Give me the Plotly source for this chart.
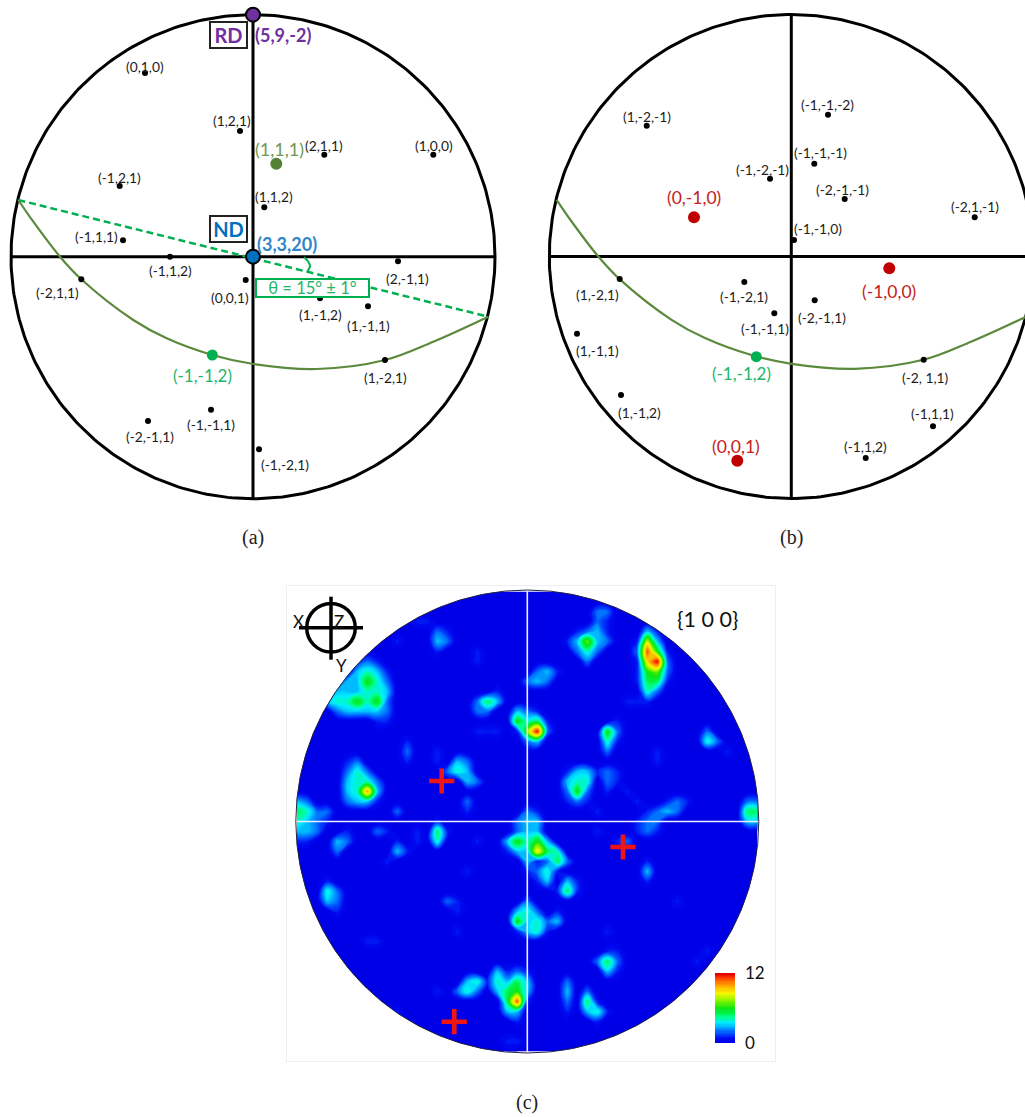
import numpy as np
import plotly.graph_objects as go

W, H = 1025, 1117
R = 242

# ---------- panel (a): projected poles ----------
A_NAMES = ["(0,1,0)", "(1,2,1)", "(2,1,1)", "(1,0,0)", "(1,1,2)", "(-1,2,1)", "(-1,1,1)", "(-1,1,2)", "(2,-1,1)",
           "(-2,1,1)", "(0,0,1)", "(1,-1,2)", "(1,-1,1)", "(1,-2,1)", "(-1,-1,1)", "(-2,-1,1)", "(-1,-2,1)"]
A_X = [-108, -13, 71.3, 180.3, 11.3, -133.3, -130, -83, 145, -171.7, -7.3, 67, 115, 132, -42, -105, 6]
A_Y = [183.7, 125.7, 102, 102, 49.4, 70.7, 16.4, 0, -4.6, -22.6, -23.3, -41.6, -49.6, -103.3, -153, -164.3, -192.6]
A_LABEL_X = [-108, -20.7, 71.3, 181, 21.3, -133.3, -157, -83, 154.3, -196, -23.3, 67.3, 115, 132.7, -42, -103.3, 32]
A_LABEL_Y = [190.7, 136.4, 111, 111.7, 60, 79.4, 20.7, -14, -21.6, -35.6, -40.3, -57.6, -68.3, -121, -167.3, -179.3, -207.6]

# ---------- panel (b) ----------
B_NAMES = ["(1,-2,-1)", "(-1,-1,-2)", "(-1,-1,-1)", "(-1,-2,-1)", "(-2,-1,-1)", "(-2,1,-1)", "(-1,-1,0)", "(1,-2,1)",
           "(-1,-2,1)", "(-1,-1,1)", "(-2,-1,1)", "(1,-1,1)", "(1,-1,2)", "(-2, 1,1)", "(-1,1,1)", "(-1,1,2)"]
B_X = [-144.6, 36.7, 23, -21.3, 53.4, 183.4, 2.7, -171.6, -47, -17, 23.4, -214.3, -170.3, 132.4, 141.7, 74.4]
B_Y = [130.8, 141.8, 92.8, 77.8, 57.5, 39.2, 16.5, -22.5, -25.5, -56.8, -43.8, -77.2, -138.5, -103.2, -169.8, -201.5]
B_LABEL_X = [-144.6, 36, 28.7, -29.3, 51.4, 184, 26.4, -193.6, -47, -26.3, 30.4, -194, -152, 133.7, 141.4, 73.7]
B_LABEL_Y = [139.8, 152.2, 103.8, 87.2, 67.2, 49.8, 28.2, -37.5, -40.2, -72.2, -60.5, -94.2, -156.2, -121.2, -157.2, -189.8]
B_RED_NAMES = ["(0,-1,0)", "(-1,0,0)", "(0,0,1)"]
B_RED_X = [-97.3, 98, -54]
B_RED_Y = [39.2, -11.8, -204.2]
B_RED_LABEL_X = [-97.3, 97.7, -55.6]
B_RED_LABEL_Y = [59.2, -34.8, -189.5]

# trace of the (-1,-1,2) plane and the 15 degree chord
TRACE_X = [-234.7, -219.7, -193, -171.7, -119.7, -86.3, -40.7, 0.3, 63.7, 132, 180.3, 235.3]
TRACE_Y = [56.7, 35, 0, -22.6, -63.3, -81.6, -98.3, -107.3, -112.3, -103.3, -85, -60]
CHORD_X = [-234.7, 235.3]
CHORD_Y = [56.7, -60]
ANGLE_X = [51, 55.3, 57, 54.3]
ANGLE_Y = [-0.6, -5, -9.3, -15]

POLE_DENSITY = {
    2: {30: 2, 31: 2},
    3: {12: 1, 13: 1, 30: 2, 31: 1},
    4: {14: 2, 15: 1, 28: 1, 29: 2, 30: 3, 31: 1, 35: 3, 36: 1},
    5: {10: 1, 14: 3, 15: 2, 27: 1, 28: 3, 29: 7, 30: 3, 31: 2, 34: 1, 35: 8, 36: 3},
    6: {14: 1, 18: 1, 28: 2, 29: 4, 30: 2, 34: 2, 35: 11, 36: 6, 37: 1},
    7: {6: 1, 7: 2, 8: 1, 18: 1, 29: 2, 34: 1, 35: 9, 36: 12, 37: 2},
    8: {6: 3, 7: 4, 8: 3, 9: 1, 24: 2, 25: 3, 26: 1, 34: 1, 35: 6, 36: 7, 37: 2},
    9: {4: 1, 5: 3, 6: 3, 7: 6, 8: 4, 9: 2, 23: 2, 24: 3, 25: 2, 34: 1, 35: 5, 36: 5, 37: 1},
    10: {3: 2, 4: 3, 5: 3, 6: 3, 7: 4, 8: 4, 9: 3, 20: 1, 35: 4, 36: 2},
    11: {3: 3, 4: 4, 5: 4, 6: 6, 7: 4, 8: 6, 9: 2, 18: 2, 19: 5, 20: 3, 33: 1, 34: 1, 35: 1},
    12: {4: 2, 5: 3, 6: 3, 7: 3, 8: 3, 9: 2, 18: 2, 19: 2, 22: 3, 23: 2, 24: 1},
    13: {8: 1, 9: 1, 22: 6, 23: 4, 24: 5, 25: 1, 32: 1},
    14: {18: 1, 19: 1, 20: 1, 22: 1, 23: 7, 24: 12, 25: 2, 31: 6, 32: 2, 41: 2},
    15: {11: 1, 23: 2, 24: 3, 31: 4, 32: 1, 41: 4, 42: 2},
    16: {11: 2, 14: 1, 31: 2, 36: 1, 43: 1},
    17: {5: 1, 6: 2, 11: 1, 14: 1, 16: 3, 17: 2, 36: 1},
    18: {5: 2, 6: 4, 7: 2, 15: 2, 16: 4, 17: 3, 27: 1, 28: 3, 29: 3, 30: 1, 31: 2, 32: 1},
    19: {5: 3, 6: 4, 7: 4, 8: 2, 17: 3, 18: 2, 27: 3, 28: 4, 29: 4, 31: 2, 32: 1},
    20: {5: 3, 6: 4, 7: 10, 8: 3, 27: 2, 28: 6, 29: 2, 31: 1, 33: 1},
    21: {0: 3, 1: 2, 5: 2, 6: 3, 7: 3, 8: 1, 17: 2, 27: 1, 28: 2, 29: 1, 34: 1, 37: 1, 38: 2, 39: 1, 45: 2, 46: 2},
    22: {0: 5, 1: 4, 2: 2, 3: 2, 10: 2, 17: 1, 23: 2, 24: 1, 30: 1, 35: 1, 36: 2, 37: 3, 38: 2, 45: 5, 46: 5},
    23: {0: 4, 1: 3, 2: 2, 3: 1, 14: 1, 22: 2, 23: 3, 24: 3, 34: 1, 35: 2, 36: 2, 45: 3, 46: 3},
    24: {0: 3, 1: 3, 2: 2, 5: 1, 8: 2, 9: 1, 12: 1, 14: 5, 15: 1, 22: 2, 23: 3, 24: 3, 30: 1, 34: 1, 35: 2, 36: 1},
    25: {0: 1, 1: 1, 4: 3, 5: 2, 10: 1, 12: 1, 14: 4, 18: 1, 21: 3, 22: 6, 23: 4, 24: 6, 25: 3, 32: 1, 33: 2},
    26: {4: 2, 10: 3, 11: 1, 21: 1, 22: 3, 23: 3, 24: 9, 25: 5, 26: 4},
    27: {9: 1, 23: 3, 24: 1, 25: 2, 26: 5, 27: 2, 35: 1},
    28: {17: 1, 23: 1, 24: 2, 25: 4, 26: 1, 35: 3},
    29: {3: 1, 24: 1, 25: 3, 27: 3, 28: 1, 35: 1},
    30: {3: 4, 4: 2, 26: 1, 27: 5, 28: 1},
    31: {3: 3, 4: 2, 15: 2, 16: 1, 23: 2, 38: 1},
    32: {4: 1, 16: 1, 22: 3, 23: 4, 24: 2, 26: 1},
    33: {22: 6, 23: 3, 24: 4, 25: 2, 26: 3},
    34: {16: 1, 22: 1, 23: 3, 24: 4, 25: 1, 31: 1},
    35: {7: 1, 8: 1},
    36: {31: 1, 32: 1, 41: 1},
    37: {30: 2, 31: 5, 32: 2, 40: 1},
    38: {20: 3, 21: 1, 22: 2, 23: 1, 31: 3, 32: 1},
    39: {17: 3, 18: 4, 19: 1, 20: 4, 21: 3, 22: 5, 23: 3, 27: 2},
    40: {14: 1, 16: 2, 17: 4, 18: 2, 20: 3, 21: 5, 22: 6, 23: 3, 27: 3, 29: 2},
    41: {21: 5, 22: 11, 23: 1, 27: 2, 29: 5, 30: 1},
    42: {10: 1, 21: 3, 22: 3, 27: 1, 29: 3, 30: 4, 31: 1},
    43: {22: 1, 30: 1},
    45: {21: 1, 22: 1},
}
CROSS_X = [-85.6, 95.7, -73]
CROSS_Y = [40.5, -25.5, -200.2]
COLOR_TICKS = [0, 12]

FONT = "Lato"
BLACK = "#000000"
TEXT = "#1c1c1c"
OLIVE = "#5b8a3c"
GREEN = "#00b050"
RED = "#c00000"
PURPLE = "#7030a0"
BLUE = "#0070c0"
JET = [[0, "#0000e6"], [0.06, "#0008f0"], [0.14, "#0050ff"], [0.21, "#0098ff"], [0.29, "#00eeff"], [0.37, "#00ff90"], [0.44, "#00f040"],
       [0.5, "#10e610"], [0.6, "#80f400"], [0.71, "#f8f800"], [0.82, "#ffa800"], [0.92, "#ff4800"], [1, "#e80000"]]

fig = go.Figure()
theta = np.linspace(0, 2 * np.pi, 361)


def line(xa, ya, x, y, color=BLACK, width=3, **kw):
    fig.add_trace(go.Scatter(x=x, y=y, xaxis=xa, yaxis=ya, mode="lines", hoverinfo="skip", showlegend=False,
                             line=dict(color=color, width=width, **kw)))


def dots(xa, ya, x, y, color=BLACK, size=6, outline=None):
    fig.add_trace(go.Scatter(x=x, y=y, xaxis=xa, yaxis=ya, mode="markers", showlegend=False,
                             marker=dict(color=color, size=size, line=dict(color=outline or color, width=2 if outline else 0))))


def label(xa, ya, x, y, text, size=13.8, color=TEXT, bold=False, **kw):
    fig.add_annotation(xref=xa, yref=ya, x=x, y=y, text=f"<b>{text}</b>" if bold else text, showarrow=False,
                       font=dict(family=FONT, size=size, color=color), **kw)


# outlines and axes of both stereographic disks
for xa, ya in (("x", "y"), ("x2", "y2")):
    line(xa, ya, R * np.cos(theta), R * np.sin(theta))
    line(xa, ya, [-R, R], [0, 0])
    line(xa, ya, [0, 0], [-R, R])

# panel a
line("x", "y", CHORD_X, CHORD_Y, GREEN, 2.5, dash="7px,4px")
line("x", "y", TRACE_X, TRACE_Y, OLIVE, 2.2, shape="spline")
line("x", "y", ANGLE_X, ANGLE_Y, GREEN, 2, shape="spline")
dots("x", "y", A_X, A_Y)
dots("x", "y", [-40.7], [-98.3], GREEN, 11)
dots("x", "y", [23.3], [93], "#548235", 12)
dots("x", "y", [0], [R], PURPLE, 14, BLACK)
dots("x", "y", [0], [0], BLUE, 14, BLACK)
for n, x, y in zip(A_NAMES, A_LABEL_X, A_LABEL_Y):
    label("x", "y", x, y, n)
label("x", "y", -51, -118.3, "(-1,-1,2)", 17, "#1fb56b")
label("x", "y", 26.3, 107.4, "(1,1,1)", 18, "#6f9a50")
label("x", "y", 30.3, 221.7, "(5,9,-2)", 18, PURPLE, True)
label("x", "y", 34.3, 12.7, "(3,3,20)", 18, "#2e86c8", True)
label("x", "y", -25, 222, "RD", 20, PURPLE, True, bgcolor="#fff", bordercolor="#222", borderwidth=2, width=35, height=24, borderpad=0)
label("x", "y", -25, 28, "ND", 20, BLUE, True, bgcolor="#fff", bordercolor="#222", borderwidth=2, width=35, height=24, borderpad=0)
label("x", "y", 59.5, -30.8, "θ = 15° ± 1°", 16.5, "#1fb56b", False, bgcolor="#fff", bordercolor=GREEN, borderwidth=2, width=111, height=16, borderpad=0)

# panel b
line("x2", "y2", TRACE_X, TRACE_Y, OLIVE, 2.2, shape="spline")
dots("x2", "y2", B_X, B_Y)
dots("x2", "y2", B_RED_X, B_RED_Y, RED, 12)
dots("x2", "y2", [-35], [-100.2], GREEN, 11)
for n, x, y in zip(B_NAMES, B_LABEL_X, B_LABEL_Y):
    label("x2", "y2", x, y, n)
for n, x, y in zip(B_RED_NAMES, B_RED_LABEL_X, B_RED_LABEL_Y):
    label("x2", "y2", x, y, n, 17.5, "#c62020")
label("x2", "y2", -50.3, -117.2, "(-1,-1,2)", 17, "#1fb56b")

# panel c
z = np.zeros((47, 47))
for row, cols in POLE_DENSITY.items():
    for col, value in cols.items():
        z[row, col] = value
lattice = np.arange(-230, 231, 10)
fig.add_trace(go.Contour(x=lattice + 0.0, y=lattice + 0.0, z=z[::-1], xaxis="x3", yaxis="y3", zmin=0, zmax=12,
                         contours=dict(start=0, end=12, size=0.2, coloring="fill", showlines=False),
                         line=dict(width=0, smoothing=1.3),
                         colorscale=JET, hoverinfo="skip",
                         colorbar=dict(x=715.3 / W, xanchor="left", y=1 - 973.3 / H, yanchor="top", len=70, lenmode="pixels",
                                       thickness=20, thicknessmode="pixels", xpad=0, ypad=0, outlinewidth=0,
                                       tickmode="array", tickvals=COLOR_TICKS, ticktext=["0", "12"], ticks="outside",
                                       ticklen=7, tickcolor="rgba(0,0,0,0)", tickfont=dict(family=FONT, size=17, color="#111"))))
Rc = 231.5
ring = "M -242 237 L 249 237 L 249 -241 L -242 -241 Z M " + " L ".join(
    f"{Rc * np.cos(t):.2f} {Rc * np.sin(t):.2f}" for t in theta[:-1]) + " Z"
fig.add_shape(type="path", xref="x3", yref="y3", path=ring, fillcolor="#fff", line=dict(width=0), layer="above", fillrule="evenodd")
fig.add_shape(type="line", xref="x3", yref="y3", x0=-Rc, x1=Rc, y0=0, y1=0, line=dict(color="#e8f0ff", width=1.6), layer="above")
fig.add_shape(type="line", xref="x3", yref="y3", x0=0, x1=0, y0=-Rc, y1=Rc, line=dict(color="#e8f0ff", width=1.6), layer="above")
fig.add_shape(type="circle", xref="x3", yref="y3", x0=-Rc, x1=Rc, y0=-Rc, y1=Rc, line=dict(color="#222244", width=1), layer="above")
fig.add_shape(type="rect", xref="x3", yref="y3", x0=-241, x1=248.4, y0=236.2, y1=-240.2, line=dict(color="#ececec", width=1), layer="above")
# sample-frame icon
ic_x, ic_y = -196.3, 193.8
fig.add_shape(type="circle", xref="x3", yref="y3", x0=ic_x - 24.3, x1=ic_x + 24.3, y0=ic_y - 24.3, y1=ic_y + 24.3, line=dict(color=BLACK, width=3.5), layer="above")
fig.add_shape(type="line", xref="x3", yref="y3", x0=ic_x - 32, x1=ic_x + 32, y0=ic_y, y1=ic_y, line=dict(color=BLACK, width=3.5), layer="above")
fig.add_shape(type="line", xref="x3", yref="y3", x0=ic_x, x1=ic_x, y0=ic_y - 32, y1=ic_y + 31, line=dict(color=BLACK, width=3.5), layer="above")
label("x3", "y3", -229, 199.8, "X", 17, "#111")
label("x3", "y3", -188.6, 199.8, "Z", 17, "#111")
label("x3", "y3", -186.3, 156.5, "Y", 17, "#111")
label("x3", "y3", 180.4, 202.2, "{1 0 0}", 21.5, "#111")
fig.add_trace(go.Scatter(x=CROSS_X, y=CROSS_Y, xaxis="x3", yaxis="y3", mode="markers", showlegend=False, hoverinfo="skip",
                         marker=dict(symbol="cross-thin-open", size=18, color="#f01515", line=dict(color="#f01515", width=4.6))))

# sub-captions
for cx, cy, t in ((253, 537, "(a)"), (791, 537, "(b)"), (527, 1102, "(c)")):
    fig.add_annotation(xref="paper", yref="paper", x=cx / W, y=1 - cy / H, text=t, showarrow=False,
                       xanchor="center", yanchor="middle",
                       font=dict(family="Liberation Serif", size=20, color="#222"))


def axis(lo, hi, p0, p1, total, flip=False):
    dom = [1 - p1 / total, 1 - p0 / total] if flip else [p0 / total, p1 / total]
    return dict(domain=dom, range=[lo, hi], visible=False, fixedrange=True, showgrid=False, zeroline=False)


fig.update_layout(
    width=W, height=H, margin=dict(l=0, r=0, t=0, b=0), paper_bgcolor="#fff", plot_bgcolor="rgba(0,0,0,0)", showlegend=False,
    xaxis=axis(-253, 257, 0, 510, W), yaxis=axis(-253.3, 256.7, 0, 510, H, True),
    xaxis2=axis(-251.3, 233.7, 540, 1025, W), yaxis2=axis(-253.5, 256.5, 0, 510, H, True),
    xaxis3=axis(-241.3, 248.7, 286, 776, W), yaxis3=axis(-240.5, 236.5, 585, 1062, H, True),
)
fig.write_html("out.html", config=dict(displayModeBar=False),
               post_script="document.body.style.margin='0';document.documentElement.style.overflow='hidden';")
